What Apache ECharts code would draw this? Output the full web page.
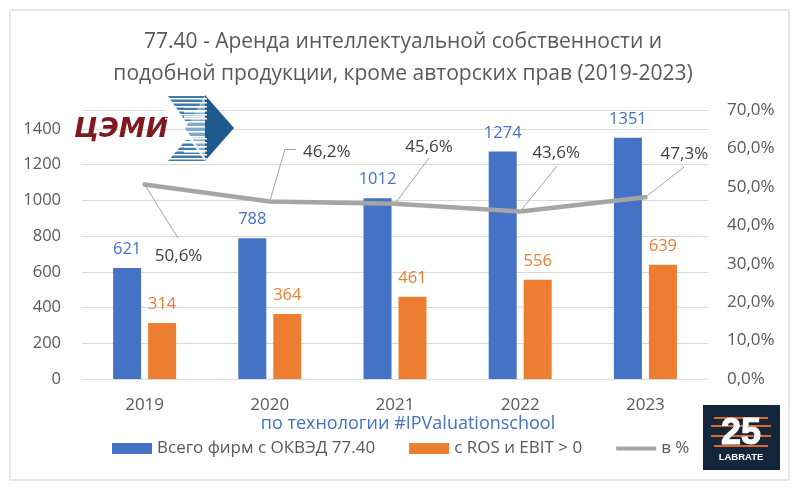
<!DOCTYPE html>
<html><head><meta charset="utf-8">
<script src="https://cdn.jsdelivr.net/npm/echarts@6/dist/echarts.min.js"></script>
<style>html,body{margin:0;padding:0;background:#fff}#c{width:800px;height:492px}</style></head>
<body><div id="c"></div>
<script>
const titleLines = ['77.40 - Аренда интеллектуальной собственности и','подобной продукции, кроме авторских прав (2019-2023)'];
const categories = ['2019','2020','2021','2022','2023'];
const allFirms = [621,788,1012,1274,1351];
const profitable = [314,364,461,556,639];
const share = [50.6,46.2,45.6,43.6,47.3];
const seriesNames = ['Всего фирм с ОКВЭД 77.40','с ROS и EBIT > 0','в %'];
const leftTicks = [0,200,400,600,800,1000,1200,1400];
const font = '"Open Sans","Noto Sans",sans-serif';
const comma = v => v.toFixed(1).replace('.',',');
const labelShift = [[34,87],[57,-34],[34,-42],[36,-43],[39,-28]];
const leaderEnd = [[178,238],[285,149],[429,158],[557,166],[684,167]];
const leaders = share.map((v,i)=>[{coord:[categories[i],v]},{x:leaderEnd[i][0],y:leaderEnd[i][1]}]);
leaders.push([{x:285,y:149},{x:296,y:149}]);
const stripes = [];
for (let y=98;y<=120;y+=4) stripes.push({type:'rect',shape:{x:165,y,width:42,height:1.4},style:{fill:'#fff'},z:6});
for (let y=138;y<=160;y+=4) stripes.push({type:'rect',shape:{x:165,y,width:42,height:1.4},style:{fill:'#fff'},z:6});
for (let y=106;y<=152;y+=5) stripes.push({type:'rect',shape:{x:184,y,width:21,height:1.6},style:{fill:'#fff'},z:6});
const chart = echarts.init(document.getElementById('c'));
chart.setOption({
  animation:false,
  backgroundColor:'#fff',
  title:{text:titleLines.join('\n'),left:398,top:21,textAlign:'center',
    textStyle:{fontFamily:font,fontSize:21,fontWeight:'normal',color:'#595959',lineHeight:32}},
  grid:{left:82,right:92,top:110,bottom:113},
  legend:{bottom:30,left:107,itemGap:34,itemWidth:40,itemHeight:11,icon:'rect',
    textStyle:{fontFamily:font,fontSize:17,color:'#595959'},
    data:seriesNames.map((name,i)=> i===2
      ? {name,icon:'path://M0 4H38V8H0Z'} : {name})},
  xAxis:{type:'category',data:categories,
    axisLine:{lineStyle:{color:'#d9d9d9'}},axisTick:{show:false},
    axisLabel:{fontFamily:font,fontSize:17,color:'#595959',margin:18}},
  yAxis:[
    {type:'value',min:0,max:1506,interval:200,
     splitLine:{lineStyle:{color:'#d9d9d9'}},axisLine:{show:false},axisTick:{show:false},
     axisLabel:{fontFamily:font,fontSize:16.5,color:'#595959',margin:21,
       formatter:v=>leftTicks.includes(v)?String(v):''}},
    {type:'value',min:0,max:70,interval:10,
     splitLine:{show:false},axisLine:{show:false},axisTick:{show:false},
     axisLabel:{fontFamily:font,fontSize:17,color:'#595959',margin:19,formatter:v=>comma(v)+'%'}}
  ],
  series:[
    {name:seriesNames[0],type:'bar',data:allFirms,barWidth:28,barGap:'25%',
     itemStyle:{color:'#4472c4'},
     label:{show:true,position:'top',distance:10,fontFamily:font,fontSize:16.5,color:'#4472c4'}},
    {name:seriesNames[1],type:'bar',data:profitable,barWidth:28,
     itemStyle:{color:'#ed7d31'},
     label:{show:true,position:'top',distance:10,fontFamily:font,fontSize:16.5,color:'#ed7d31'}},
    {name:seriesNames[2],type:'line',yAxisIndex:1,data:share,smooth:false,
     showSymbol:true,symbol:'circle',symbolSize:3,
     lineStyle:{color:'#a5a5a5',width:4.5,cap:'round'},itemStyle:{color:'#a5a5a5'},
     label:{show:true,position:'top',fontFamily:font,fontSize:17,color:'#404040',
       formatter:p=>comma(p.value)+'%'},
     labelLayout:p=>{const o=labelShift[p.dataIndex];return {dx:o[0],dy:o[1],hideOverlap:false};},
     markLine:{silent:true,symbol:'none',animation:false,label:{show:false},
       lineStyle:{color:'#a6a6a6',width:1,type:'solid'},emphasis:{disabled:true},data:leaders}}
  ],
  graphic:[
    {type:'rect',shape:{x:10,y:10,width:779,height:470},style:{fill:'none',stroke:'#e0e0e0',lineWidth:1.5},z:-1},
    {type:'text',style:{x:408,y:424,text:'по технологии #IPValuationschool',align:'center',verticalAlign:'middle',
      font:'18px '+font,fill:'#4472c4'},z:5},
    {type:'text',style:{x:74,y:130,text:'ЦЭМИ',align:'left',verticalAlign:'middle',
      font:'italic bold 27px "DejaVu Sans",sans-serif',fill:'#7f1a22'},z:5},
    {type:'polygon',shape:{points:[[205,95],[234,128],[205,161]]},style:{fill:'#1f5a8f'},z:5},
    {type:'polygon',shape:{points:[[168,96],[205,96],[190,122],[186,122]]},style:{fill:'#3f7cab'},z:5},
    {type:'polygon',shape:{points:[[168,161],[205,161],[190,140],[186,140]]},style:{fill:'#3f7cab'},z:5},
    {type:'polygon',shape:{points:[[185,128],[205,98],[205,158]]},style:{fill:'#7fa8c9'},z:5},
    ...stripes,
    {type:'rect',shape:{x:703,y:405,width:77,height:65},style:{fill:'#13263a'},z:5},
    {type:'text',style:{x:741,y:434,text:'25',align:'center',verticalAlign:'middle',
      font:'bold 36px "Liberation Sans",sans-serif',fill:'#ffffff',stroke:'#ffffff',lineWidth:1},z:7},
    {type:'rect',shape:{x:714,y:417,width:54,height:2},style:{fill:'#e0652a'},z:6},
    {type:'rect',shape:{x:711,y:425,width:60,height:2},style:{fill:'#e0652a'},z:6},
    {type:'rect',shape:{x:711,y:435,width:60,height:2},style:{fill:'#e0652a'},z:6},
    {type:'rect',shape:{x:714,y:445,width:54,height:2},style:{fill:'#e0652a'},z:6},
    {type:'text',style:{x:741,y:457,text:'LABRATE',align:'center',verticalAlign:'middle',
      font:'bold 9.5px "Liberation Sans",sans-serif',fill:'#ffffff'},z:7}
  ]
});
</script></body></html>
